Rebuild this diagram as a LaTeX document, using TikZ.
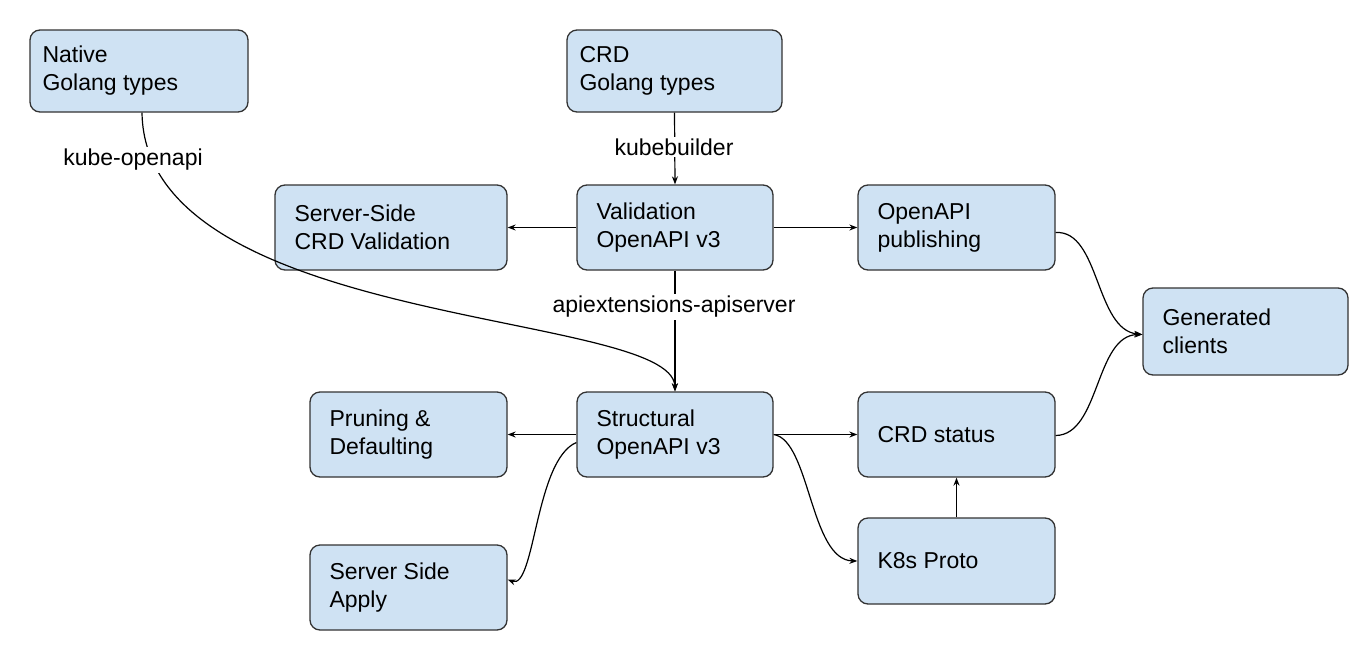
\documentclass[tikz,border=0pt]{standalone}
\usepackage{fontspec}
\setmainfont{Liberation Sans}
\usetikzlibrary{arrows.meta}
\definecolor{boxfill}{HTML}{CFE2F3}
\definecolor{boxline}{HTML}{333333}
\begin{document}
\begin{tikzpicture}[x=1pt,y=-1pt,
  box/.style={draw=boxline,line width=1.3pt,fill=boxfill,rounded corners=10pt,
    align=left,anchor=north west,inner sep=0pt,text width=#1,font=\fontsize{23}{27}\selectfont},
  lab/.style={fill=white,inner sep=2pt,font=\fontsize{23}{27}\selectfont},
  arr/.style={-{Stealth[length=8pt,width=6pt]},line width=1.2pt,draw=black}]
\useasboundingbox (0,0) rectangle (1364,664);
\newcommand\bx[6]{% name, x1,y1,x2,y2,text
  \node[box=#4pt-#2pt-20pt,minimum height=#5pt-#3pt,text depth=0pt] (#1) at (#2,#3) {};
  \node[anchor=west,align=left,inner sep=0pt,font=\fontsize{23}{27}\selectfont] at (#2+14,{(#3+#5)/2}) {#6};}
\node[draw=boxline,line width=1.3pt,fill=boxfill,rounded corners=10pt,minimum width=218pt,minimum height=82pt] (nat) at (139,71) {};
\node[draw=boxline,line width=1.3pt,fill=boxfill,rounded corners=10pt,minimum width=215pt,minimum height=82pt] (crd) at (674.5,71) {};
\node[draw=boxline,line width=1.3pt,fill=boxfill,rounded corners=10pt,minimum width=232pt,minimum height=85pt] (ssv) at (391,227.5) {};
\node[draw=boxline,line width=1.3pt,fill=boxfill,rounded corners=10pt,minimum width=196pt,minimum height=85pt] (val) at (675,227.5) {};
\node[draw=boxline,line width=1.3pt,fill=boxfill,rounded corners=10pt,minimum width=197pt,minimum height=85pt] (pub) at (956.5,227.5) {};
\node[draw=boxline,line width=1.3pt,fill=boxfill,rounded corners=10pt,minimum width=205pt,minimum height=87pt] (gen) at (1245.5,331.5) {};
\node[draw=boxline,line width=1.3pt,fill=boxfill,rounded corners=10pt,minimum width=197pt,minimum height=85pt] (pru) at (408.5,434.5) {};
\node[draw=boxline,line width=1.3pt,fill=boxfill,rounded corners=10pt,minimum width=196pt,minimum height=85pt] (str) at (675,434.5) {};
\node[draw=boxline,line width=1.3pt,fill=boxfill,rounded corners=10pt,minimum width=197pt,minimum height=85pt] (sta) at (956.5,434.5) {};
\node[draw=boxline,line width=1.3pt,fill=boxfill,rounded corners=10pt,minimum width=197pt,minimum height=85pt] (ssa) at (408.5,587.5) {};
\node[draw=boxline,line width=1.3pt,fill=boxfill,rounded corners=10pt,minimum width=197pt,minimum height=86pt] (k8s) at (956.5,561) {};
\tikzset{t/.style={anchor=west,align=left,inner sep=0pt,font=\fontsize{23}{28}\selectfont}}
\node[t] (tnat) at (nat.west) [xshift=13pt] {Native\\Golang types};
\node[t] (tcrd) at (crd.west) [xshift=13pt] {CRD\\Golang types};
\node[t] (tssv) at (ssv.west) [xshift=20pt] {Server-Side\\CRD Validation};
\node[t] (tval) at (val.west) [xshift=20pt] {Validation\\OpenAPI v3};
\node[t] (tpub) at (pub.west) [xshift=20pt] {OpenAPI\\publishing};
\node[t] (tgen) at (gen.west) [xshift=20pt] {Generated\\clients};
\node[t] (tpru) at (pru.west) [xshift=20pt] {Pruning \&\\Defaulting};
\node[t] (tstr) at (str.west) [xshift=20pt] {Structural\\OpenAPI v3};
\node[t] (tsta) at (sta.west) [xshift=20pt] {CRD status};
\node[t] (tssa) at (ssa.west) [xshift=20pt] {Server Side\\Apply};
\node[t] (tk8s) at (k8s.west) [xshift=20pt] {K8s Proto};
% connectors
\draw[arr] (nat.south) ++(3,0) coordinate (ns) .. controls (145,330) and (673,310) .. (str.north);
\node[lab] (l1) at (133,160) {kube-openapi};
\draw[arr] (crd.south) -- (val.north);
\node[lab] (l2) at (674,147) {kubebuilder};
\draw[arr] (val.south) -- (str.north);
\node[lab] (l3) at (674,307) {apiextensions-apiserver};
\draw[arr] (val.west) -- (ssv.east);
\draw[arr] (val.east) -- (pub.east-|pub.west);
\draw[arr] (str.west) -- (pru.east);
\draw[arr] (str.east) -- (sta.west);
\draw[arr] ([yshift=-8pt]str.west) .. controls (535,460) and (535,590) .. ([yshift=8pt]ssa.east);
\draw[arr] ([yshift=0pt]str.east) .. controls (810,440) and (810,560) .. (k8s.west);
\draw[arr] (k8s.north) -- (sta.south);
\draw[arr] ([yshift=-5pt]pub.east) .. controls (1100,230) and (1095,330) .. ([yshift=-3pt]gen.west);
\draw[arr] ([yshift=-1pt]sta.east) .. controls (1100,435) and (1095,335) .. ([yshift=-3pt]gen.west);
\end{tikzpicture}
\end{document}
